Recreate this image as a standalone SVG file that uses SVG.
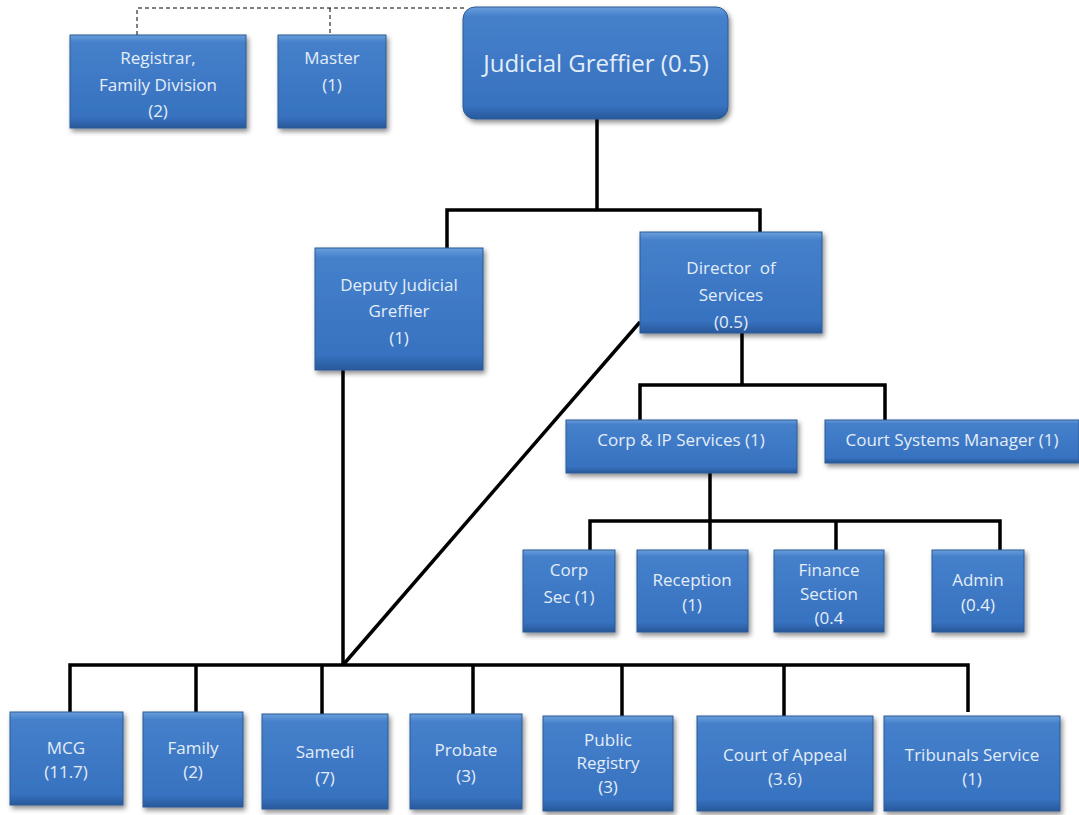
<svg xmlns="http://www.w3.org/2000/svg" width="1079" height="815" viewBox="0 0 1079 815">
<defs>
<linearGradient id="g" x1="0" y1="0" x2="0" y2="1">
<stop offset="0" stop-color="#6a9fdc"/>
<stop offset="0.08" stop-color="#4580cb"/>
<stop offset="0.88" stop-color="#3772c0"/>
<stop offset="1" stop-color="#28589a"/>
</linearGradient>
<filter id="sh" x="-10%" y="-10%" width="125%" height="130%">
<feDropShadow dx="2" dy="3" stdDeviation="2.5" flood-color="#000" flood-opacity="0.45"/>
</filter>
</defs>
<style>
.b{fill:url(#g);stroke:#2d5a94;stroke-width:1;filter:url(#sh)}
.t{font-family:"Open Sans","Liberation Sans",sans-serif;font-size:17px;fill:#e4edf8;text-anchor:middle}
.c{stroke:#000;stroke-width:3.5;fill:none;stroke-linejoin:miter}
.d{stroke:#000;stroke-width:1;fill:none;stroke-dasharray:4 3}
</style>
<rect width="1079" height="815" fill="#fff"/>
<g id="connectors">
<polyline class="d" points="137,35 137,8 466,8"/>
<line class="d" x1="330" y1="8" x2="330" y2="35"/>
<line class="c" x1="597" y1="119" x2="597" y2="210"/>
<polyline class="c" points="447,248 447,210 760,210 760,232"/>
<line class="c" x1="742" y1="333" x2="742" y2="385"/>
<polyline class="c" points="640,420 640,385 885,385 885,420"/>
<line class="c" x1="710" y1="473" x2="710" y2="521"/>
<polyline class="c" points="590,550 590,521 1000,521 1000,550"/>
<line class="c" x1="710" y1="521" x2="710" y2="550"/>
<line class="c" x1="836" y1="521" x2="836" y2="550"/>
<line class="c" x1="343" y1="370" x2="343" y2="665"/>
<line class="c" x1="343" y1="665" x2="640" y2="322"/>
<polyline class="c" points="70,712 70,665 968,665 968,712"/>
<line class="c" x1="196" y1="665" x2="196" y2="712"/>
<line class="c" x1="322" y1="665" x2="322" y2="714"/>
<line class="c" x1="473" y1="665" x2="473" y2="714"/>
<line class="c" x1="622" y1="665" x2="622" y2="716"/>
<line class="c" x1="784" y1="665" x2="784" y2="716"/>
</g>
<g id="registrar"><rect class="b" x="70" y="35" width="176" height="93"/><text class="t" x="158" y="64">Registrar,</text><text class="t" x="158" y="91">Family Division</text><text class="t" x="158" y="117">(2)</text></g>
<g id="master"><rect class="b" x="278" y="35" width="108" height="93"/><text class="t" x="332" y="64">Master</text><text class="t" x="332" y="91">(1)</text></g>
<g id="judicial"><rect class="b" x="463" y="7" width="265" height="112" rx="12"/><text class="t" x="596" y="72" style="font-size:24px">Judicial Greffier (0.5)</text></g>
<g id="deputy"><rect class="b" x="315" y="248" width="168" height="122"/><text class="t" x="399" y="291">Deputy Judicial</text><text class="t" x="399" y="317">Greffier</text><text class="t" x="399" y="344">(1)</text></g>
<g id="director"><rect class="b" x="640" y="232" width="182" height="101"/><text class="t" x="731" y="274" xml:space="preserve">Director  of</text><text class="t" x="731" y="301">Services</text><text class="t" x="731" y="328">(0.5)</text></g>
<g id="corpip"><rect class="b" x="566" y="420" width="231" height="53"/><text class="t" x="681" y="446">Corp &amp; IP Services (1)</text></g>
<g id="courtsys"><rect class="b" x="825" y="420" width="254" height="43"/><text class="t" x="952" y="446">Court Systems Manager (1)</text></g>
<g id="corpsec"><rect class="b" x="523" y="550" width="92" height="82"/><text class="t" x="569" y="576">Corp</text><text class="t" x="569" y="603">Sec (1)</text></g>
<g id="reception"><rect class="b" x="637" y="550" width="111" height="82"/><text class="t" x="692" y="586">Reception</text><text class="t" x="692" y="611">(1)</text></g>
<g id="finance"><rect class="b" x="774" y="550" width="110" height="82"/><text class="t" x="829" y="576">Finance</text><text class="t" x="829" y="600">Section</text><text class="t" x="829" y="624">(0.4</text></g>
<g id="admin"><rect class="b" x="932" y="550" width="92" height="82"/><text class="t" x="978" y="586">Admin</text><text class="t" x="978" y="611">(0.4)</text></g>
<g id="mcg"><rect class="b" x="10" y="712" width="113" height="93"/><text class="t" x="66" y="754">MCG</text><text class="t" x="66" y="778">(11.7)</text></g>
<g id="family"><rect class="b" x="143" y="712" width="100" height="95"/><text class="t" x="193" y="754">Family</text><text class="t" x="193" y="778">(2)</text></g>
<g id="samedi"><rect class="b" x="262" y="714" width="126" height="95"/><text class="t" x="325" y="758">Samedi</text><text class="t" x="325" y="784">(7)</text></g>
<g id="probate"><rect class="b" x="410" y="714" width="112" height="95"/><text class="t" x="466" y="756">Probate</text><text class="t" x="466" y="782">(3)</text></g>
<g id="public"><rect class="b" x="543" y="716" width="130" height="95"/><text class="t" x="608" y="746">Public</text><text class="t" x="608" y="769">Registry</text><text class="t" x="608" y="793">(3)</text></g>
<g id="appeal"><rect class="b" x="697" y="716" width="176" height="95"/><text class="t" x="785" y="761">Court of Appeal</text><text class="t" x="785" y="785">(3.6)</text></g>
<g id="tribunals"><rect class="b" x="884" y="716" width="176" height="95"/><text class="t" x="972" y="761">Tribunals Service</text><text class="t" x="972" y="785">(1)</text></g>
</svg>
